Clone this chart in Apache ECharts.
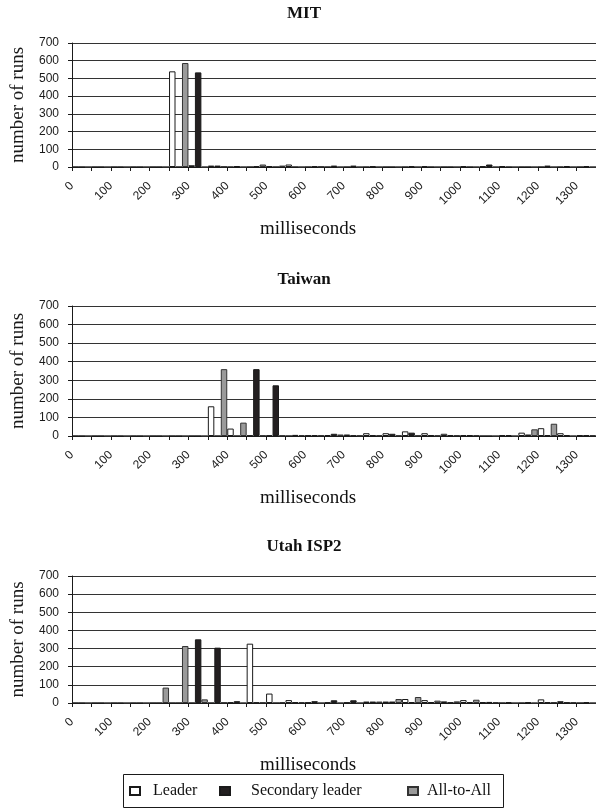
<!DOCTYPE html>
<html>
<head>
<meta charset="utf-8">
<script src="https://cdn.jsdelivr.net/npm/echarts@6/dist/echarts.min.js"></script>
<style>
  html, body { margin: 0; padding: 0; background: #ffffff; }
  #chart { width: 596px; height: 809px; }
</style>
</head>
<body>
<div id="chart"></div>
<script>
// Histogram bins: 50 ms wide, left edges 0 .. 1300 ms
const binWidth = 50;
const bins = ['0','50','100','150','200','250','300','350','400','450','500','550','600','650',
              '700','750','800','850','900','950','1000','1050','1100','1150','1200','1250','1300'];
const seriesNames = ['Leader', 'Secondary leader', 'All-to-All'];
const panelTitles = ['MIT', 'Taiwan', 'Utah ISP2'];
const yMax = 700;
const yStep = 100;
const xLabelStep = 100;

// number of runs per bin
const mitLeader    = [0,0,0,0,0,540,10,8,0,0,4,14,0,0,0,0,0,0,4,0,4,4,5,0,0,0,0];
const mitSecondary = [0,0,0,0,0,0,534,8,5,4,0,0,4,8,8,4,0,4,0,0,0,14,0,0,8,5,5];
const mitAll       = [0,0,0,0,0,587,0,3,0,14,8,0,3,0,0,0,0,0,0,0,0,0,0,0,0,0,0];

const twLeader     = [0,0,0,0,0,0,0,160,40,3,3,0,3,5,8,15,15,25,15,12,4,0,4,18,42,15,4];
const twSecondary  = [0,0,0,0,0,0,0,0,0,360,273,6,4,12,3,4,12,18,5,4,4,0,4,8,5,5,4];
const twAll        = [0,0,0,0,0,0,0,360,72,3,3,5,4,8,3,4,3,3,3,4,4,0,0,36,66,0,4];

const utLeader     = [0,0,0,0,0,0,0,0,3,327,52,16,3,3,3,8,8,22,16,9,16,4,0,0,20,10,0];
const utSecondary  = [0,0,0,0,0,0,351,305,10,3,0,4,10,15,15,8,8,5,5,3,5,6,4,4,4,3,4];
const utAll        = [0,0,0,0,85,314,20,3,0,3,4,4,0,0,0,8,22,33,13,9,18,4,0,0,4,4,0];

const panelData = [
  [mitLeader, mitSecondary, mitAll],
  [twLeader, twSecondary, twAll],
  [utLeader, utSecondary, utAll]
];

// layout of the three stacked panels
const plotLeft = 72;
const bandPx = 19.5;
const panels = [
  { top: 43,  bottom: 167, titleY: 14,  xNameY: 229 },
  { top: 306, bottom: 436, titleY: 280, xNameY: 498 },
  { top: 576, bottom: 703, titleY: 547, xNameY: 765 }
];

const serif = 'Liberation Serif, Times New Roman, serif';
const sans = 'Liberation Sans, Arial, sans-serif';
const ink = '#1a1a1a';

const barStyles = [
  { color: '#ffffff', borderColor: ink, borderWidth: 1 },
  { color: '#231f20', borderColor: ink, borderWidth: 1 },
  { color: '#9a9a9a', borderColor: '#333333', borderWidth: 1 }
];

const grid = [], xAxis = [], yAxis = [], series = [], graphic = [];

panels.forEach((p, i) => {
  grid.push({
    left: plotLeft,
    top: p.top,
    width: bins.length * bandPx,
    height: p.bottom - p.top,
    containLabel: false
  });

  // category axis carrying the bars, ticks on bin edges
  xAxis.push({
    type: 'category',
    gridIndex: i,
    data: bins,
    boundaryGap: true,
    axisLine: { lineStyle: { color: ink, width: 1 } },
    axisTick: { show: true, length: 4, interval: 0, lineStyle: { color: ink } },
    axisLabel: { show: false },
    splitLine: { show: false }
  });

  // millisecond scale used for the edge labels
  xAxis.push({
    type: 'value',
    gridIndex: i,
    position: 'bottom',
    min: 0,
    max: bins.length * binWidth,
    interval: xLabelStep,
    axisLine: { show: false },
    axisTick: { show: false },
    splitLine: { show: false },
    axisLabel: {
      rotate: 45,
      margin: 17,
      fontSize: 12,
      fontFamily: sans,
      color: ink,
      showMaxLabel: false,
      formatter: v => (v % xLabelStep === 0 ? String(v) : '')
    }
  });

  yAxis.push({
    type: 'value',
    gridIndex: i,
    min: 0,
    max: yMax,
    interval: yStep,
    name: 'number of runs',
    nameLocation: 'middle',
    nameGap: 44,
    nameTextStyle: { fontFamily: serif, fontSize: 19, color: ink },
    axisLine: { show: true, lineStyle: { color: ink, width: 1 } },
    axisTick: { show: true, length: 4, lineStyle: { color: ink } },
    axisLabel: { fontSize: 12, fontFamily: sans, color: ink, margin: 13 },
    splitLine: { show: true, lineStyle: { color: '#333333', width: 1 } }
  });

  seriesNames.forEach((name, k) => {
    series.push({
      type: 'bar',
      name: name,
      xAxisIndex: i * 2,
      yAxisIndex: i,
      data: panelData[i][k],
      barGap: '0%',
      barCategoryGap: '0%',
      itemStyle: barStyles[k],
      emphasis: { disabled: true },
      animation: false
    });
  });

  graphic.push({
    type: 'text',
    x: 304,
    y: p.titleY,
    style: {
      text: panelTitles[i],
      font: 'bold 17px ' + serif,
      fill: '#111111',
      textAlign: 'center',
      textVerticalAlign: 'middle'
    }
  });
  graphic.push({
    type: 'text',
    x: 308,
    y: p.xNameY,
    style: {
      text: 'milliseconds',
      font: '19px ' + serif,
      fill: '#111111',
      textAlign: 'center',
      textVerticalAlign: 'middle'
    }
  });
});

// legend frame
graphic.push({
  type: 'rect',
  shape: { x: 123.5, y: 774.5, width: 380, height: 33 },
  style: { fill: '#ffffff', stroke: ink, lineWidth: 1 },
  z: -1
});

const legendLeft = [129, 219, 407];
const legendGapPad = [8, 16, 4];
const legend = seriesNames.map((name, k) => ({
  data: [name],
  left: legendLeft[k],
  top: 783,
  padding: 0,
  itemWidth: 10,
  itemHeight: 8,
  icon: 'rect',
  selectedMode: false,
  textStyle: {
    fontFamily: serif,
    fontSize: 16,
    color: '#111111',
    padding: [0, 0, 0, legendGapPad[k]]
  }
}));

const chart = echarts.init(document.getElementById('chart'), null, { renderer: 'canvas' });
chart.setOption({
  animation: false,
  backgroundColor: '#ffffff',
  grid, xAxis, yAxis, series, legend, graphic
});
</script>
</body>
</html>
